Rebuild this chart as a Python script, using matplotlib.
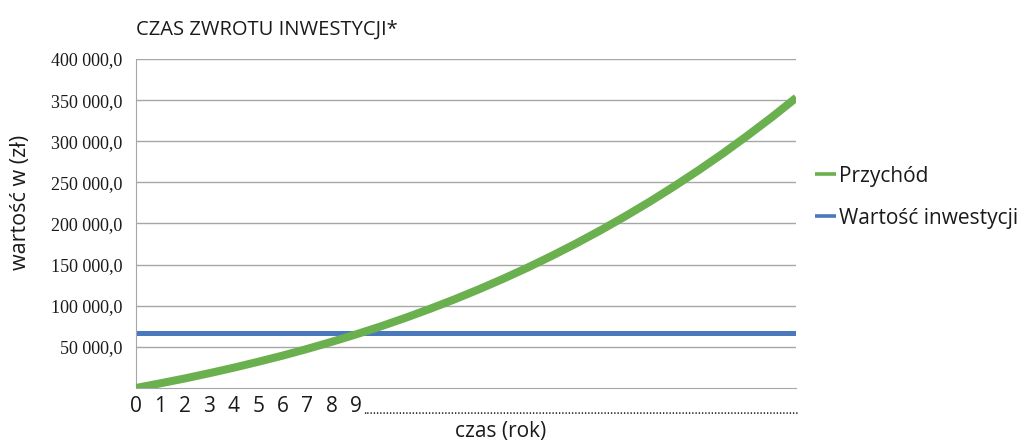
import matplotlib
matplotlib.use("Agg")
import matplotlib.pyplot as plt
from matplotlib.ticker import FuncFormatter

# Years of operation and cumulative revenue (PLN)
years = list(range(0, 28))
revenue = [0, 5700, 11600, 18000, 24700, 31900, 39400, 47500, 56100, 65200,
           74800, 85100, 96000, 107500, 119700, 132600, 146200, 160600, 175800,
           191800, 208700, 226400, 245100, 264700, 285200, 306800, 329300, 353000]
investment_value = 66400
investment = [investment_value] * len(years)

year_labels = ["0", "1", "2", "3", "4", "5", "6", "7", "8", "9"]
y_ticks = [50000, 100000, 150000, 200000, 250000, 300000, 350000, 400000]

title = "CZAS ZWROTU INWESTYCJI*"
x_title = "czas (rok)"
y_title = "wartość w (zł)"
series_names = ["Przychód", "Wartość inwestycji"]

GREEN = "#6ab04f"
BLUE = "#4a78bd"
GRID = "#a6a6a6"
TEXT = "#1a1a1a"
SANS = ["Open Sans", "DejaVu Sans"]

fig = plt.figure(figsize=(10.27, 4.41), dpi=100)
ax = fig.add_axes([0.1324, 0.1202, 0.643, 0.746])

ax.plot(years, revenue, color=GREEN, lw=5.8, solid_capstyle="butt",
        label=series_names[0], zorder=3)
ax.plot(years, investment, color=BLUE, lw=3.6, solid_capstyle="butt",
        label=series_names[1], zorder=2)

ax.set_xlim(0, 27)
ax.set_ylim(0, 400000)
ax.set_yticks(y_ticks)
ax.yaxis.set_major_formatter(FuncFormatter(
    lambda v, _: f"{int(v):,}".replace(",", " ") + ",0"))
ax.tick_params(axis="y", length=0, pad=10, labelsize=13, labelcolor=TEXT)
for lab in ax.get_yticklabels():
    lab.set_family("Liberation Serif")

ax.set_xticks(range(len(year_labels)))
ax.set_xticklabels(year_labels, family=SANS, fontsize=15, color=TEXT)
ax.tick_params(axis="x", length=0, pad=6)

ax.grid(axis="y", color=GRID, lw=1)
ax.set_axisbelow(True)
for side in ("top", "right"):
    ax.spines[side].set_visible(False)
ax.spines["left"].set_color(GRID)
ax.spines["bottom"].set_color(GRID)

# dotted continuation of the time axis after year 9
ax.text(9.3, -26 / 329, "." * 134, transform=ax.get_xaxis_transform(),
        ha="left", va="baseline", family=SANS, fontsize=9, color=TEXT,
        clip_on=False)

ax.set_xlabel(x_title, family=SANS, fontsize=15, color=TEXT)
ax.xaxis.set_label_coords(0.552, -0.10)
ax.set_ylabel(y_title, family=SANS, fontsize=15.5, color=TEXT)
ax.yaxis.set_label_coords(-0.159, 0.565)

fig.text(136 / 1027, 1 - 30 / 441, title, family=SANS, fontsize=14.5,
         color=TEXT, ha="left", va="center")

leg = ax.legend(loc="center left", bbox_to_anchor=(1.0, 0.58), frameon=False,
                prop={"family": SANS, "size": 15}, handlelength=1.0,
                handletextpad=0.15, labelspacing=1.0)
for t in leg.get_texts():
    t.set_color(TEXT)
for h in leg.get_lines():
    h.set_linewidth(2.6)

fig.savefig("out.png", dpi=100)
